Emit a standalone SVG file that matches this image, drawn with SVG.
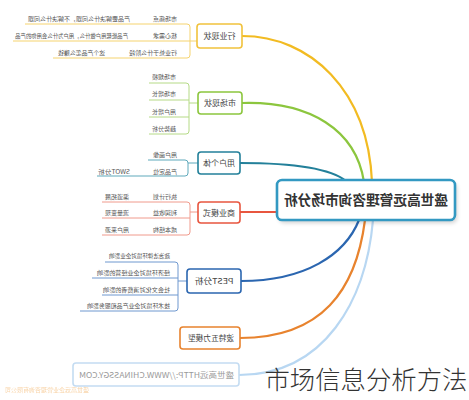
<svg xmlns="http://www.w3.org/2000/svg" width="469" height="400" viewBox="0 0 469 400">
<defs>
<style>
text{font-family:"Noto Sans CJK SC","Noto Sans",sans-serif;}
.t{font-size:6px;fill:#555;}
.nl{font-size:8px;fill:#444;text-anchor:middle;}
.ln{fill:none;stroke-width:1;}
.cn{fill:none;stroke-width:2.2;stroke-linecap:round;}
.box{fill:#fff;stroke-width:1.6;}
</style>
<filter id="sh" x="-10%" y="-20%" width="120%" height="150%"><feGaussianBlur stdDeviation="2"/></filter>
</defs>
<rect width="469" height="400" fill="#fff"/>

<g id="connectors">
<path class="cn" stroke="#f2bb22" d="M242,36 C310,36 368,90 372,182"/>
<path class="cn" stroke="#8cc63e" d="M242,103 C310,101 356,130 364,182"/>
<path class="cn" stroke="#23809a" d="M240,163 C292,163 330,168 346,181"/>
<path class="cn" stroke="#e8563f" d="M240,212 L277,212"/>
<path class="cn" stroke="#2b66b0" d="M241,281 C305,281 345,255 359,220"/>
<path class="cn" stroke="#e8832e" d="M240,338 C322,338 356,290 365,220"/>
<path class="cn" stroke="#b8d7f2" d="M239,375 C325,375 366,300 373,220"/>
</g>

<g id="center">
<rect x="279" y="183" width="178" height="40" rx="5" fill="#000" opacity="0.18" filter="url(#sh)"/>
<rect x="277" y="180" width="178" height="40" rx="5" fill="#fff" stroke="#3399c2" stroke-width="2.6"/>
<text transform="scale(-1 1)" x="-366" y="205" text-anchor="middle" font-size="14" font-weight="600" fill="#333" textLength="164" lengthAdjust="spacingAndGlyphs">盛世高远管理咨询市场分析</text>
</g>

<g id="n1">
<path class="ln" stroke="#f5d36e" d="M25,24 H187 Q190,24 190,27 V55 Q190,58 187,58 H53 M13,41 H197"/>
<rect class="box" x="197" y="24" width="45" height="24" rx="3" stroke="#f1c23c"/>
<text class="nl" transform="scale(-1 1)" x="-219.5" y="39">行业现状</text>
<text class="t" transform="scale(-1 1)" x="-177" y="21">市场痛点</text>
<text class="t" transform="scale(-1 1)" x="-130" y="21" textLength="102" lengthAdjust="spacingAndGlyphs">产品要解决什么问题，不解决什么问题</text>
<text class="t" transform="scale(-1 1)" x="-177" y="38">核心需求</text>
<text class="t" transform="scale(-1 1)" x="-128" y="38" textLength="113" lengthAdjust="spacingAndGlyphs">产品能帮用户做什么，用户为什么会用你的产品</text>
<text class="t" transform="scale(-1 1)" x="-177" y="55">行业处于什么阶段</text>
<text class="t" transform="scale(-1 1)" x="-105" y="55" textLength="47" lengthAdjust="spacingAndGlyphs">这个产品怎么赚钱</text>
</g>

<g id="n2">
<path class="ln" stroke="#b5da86" d="M149,83 H186 Q189,83 189,86 V131 Q189,134 186,134 H149 M149,100 H189 M149,117 H189 M189,103 H198"/>
<rect class="box" x="198" y="92" width="44" height="22" rx="3" stroke="#8cc63e"/>
<text class="nl" transform="scale(-1 1)" x="-220" y="106">市场现状</text>
<text class="t" transform="scale(-1 1)" x="-176" y="79">市场规模</text>
<text class="t" transform="scale(-1 1)" x="-176" y="96">市场增长</text>
<text class="t" transform="scale(-1 1)" x="-176" y="114">用户增长</text>
<text class="t" transform="scale(-1 1)" x="-176" y="131">趋势分析</text>
</g>

<g id="n3">
<path class="ln" stroke="#5fa9bb" d="M148,160 H185 Q188,160 188,163 V173 Q188,176 185,176 H97 M188,163 H198"/>
<rect class="box" x="198" y="152" width="42" height="22" rx="3" stroke="#23809a"/>
<text class="nl" transform="scale(-1 1)" x="-219" y="166">用户个体</text>
<text class="t" transform="scale(-1 1)" x="-177" y="157">用户画像</text>
<text class="t" transform="scale(-1 1)" x="-177" y="174">产品定位</text>
<text class="t" transform="scale(-1 1)" x="-130" y="174" textLength="32" lengthAdjust="spacingAndGlyphs">SWOT分析</text>
</g>

<g id="n4">
<path class="ln" stroke="#f09a8c" d="M102,202 H187 Q190,202 190,205 V232 Q190,235 187,235 H102 M102,218 H190 M190,212 H198"/>
<rect class="box" x="198" y="202" width="42" height="21" rx="3" stroke="#e8563f"/>
<text class="nl" transform="scale(-1 1)" x="-219" y="215.5">商业模式</text>
<text class="t" transform="scale(-1 1)" x="-177" y="199">执行计划</text>
<text class="t" transform="scale(-1 1)" x="-129" y="199">渠道拓展</text>
<text class="t" transform="scale(-1 1)" x="-177" y="215">利润收益</text>
<text class="t" transform="scale(-1 1)" x="-129" y="215">流量变现</text>
<text class="t" transform="scale(-1 1)" x="-177" y="232">成本结构</text>
<text class="t" transform="scale(-1 1)" x="-129" y="232">用户来源</text>
</g>

<g id="n5">
<path class="ln" stroke="#6f98cf" d="M105,262 H175 Q178,262 178,265 V308 Q178,311 175,311 H80 M92,278 H178 M102,295 H178 M178,281 H187"/>
<rect class="box" x="187" y="269" width="54" height="24" rx="3" stroke="#2b66b0"/>
<text class="nl" transform="scale(-1 1)" x="-214" y="284" textLength="39" lengthAdjust="spacingAndGlyphs">PEST分析</text>
<text class="t" transform="scale(-1 1)" x="-170" y="258" textLength="61" lengthAdjust="spacingAndGlyphs">政治法律环境对企业影响</text>
<text class="t" transform="scale(-1 1)" x="-170" y="275" textLength="73" lengthAdjust="spacingAndGlyphs">经济环境对企业经营的影响</text>
<text class="t" transform="scale(-1 1)" x="-170" y="292" textLength="67" lengthAdjust="spacingAndGlyphs">社会文化对消费者的影响</text>
<text class="t" transform="scale(-1 1)" x="-170" y="308" textLength="83" lengthAdjust="spacingAndGlyphs">技术环境对企业产品和服务影响</text>
</g>

<g id="n6">
<rect class="box" x="180" y="327" width="60" height="22" rx="3" stroke="#e8832e"/>
<text class="nl" transform="scale(-1 1)" x="-211" y="341" font-size="7.5" textLength="46" lengthAdjust="spacingAndGlyphs">波特五力模型</text>
</g>

<g id="n7">
<rect class="box" x="73" y="363" width="166" height="23" rx="3" stroke="#c4dcf2"/>
<text transform="scale(-1 1)" x="-156.5" y="377.5" text-anchor="middle" font-size="8" fill="#9a9a9a" textLength="155" lengthAdjust="spacingAndGlyphs">盛世高远HTTP://WWW.CHINASSGY.COM</text>
</g>

<text transform="scale(-1 1)" x="-47" y="392" text-anchor="middle" font-size="6" fill="#f0a040" opacity="0.45" textLength="84" lengthAdjust="spacingAndGlyphs">盛世高远企业管理咨询有限公司</text>
<text x="366" y="389" text-anchor="middle" font-size="25" font-weight="300" fill="#333" textLength="203" lengthAdjust="spacingAndGlyphs">市场信息分析方法</text>
</svg>
